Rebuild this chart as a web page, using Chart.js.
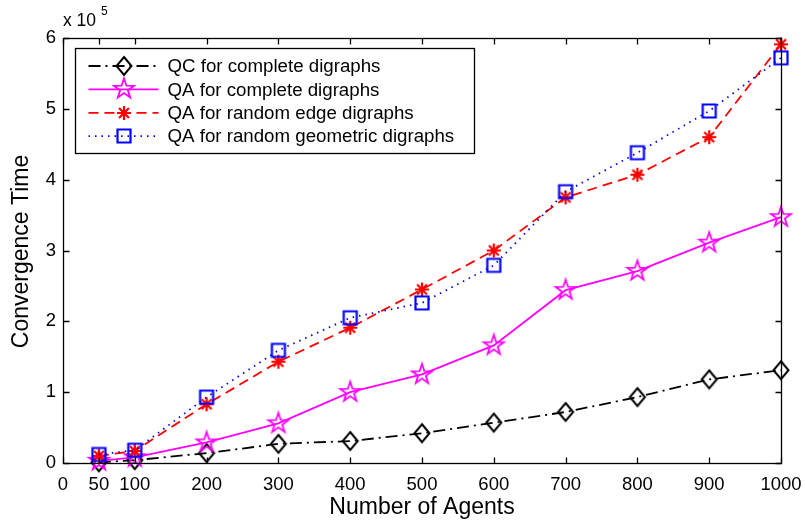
<!DOCTYPE html>
<html>
<head>
<meta charset="utf-8">
<script src="https://cdn.jsdelivr.net/npm/chart.js@4.4.0/dist/chart.umd.min.js"></script>
<style>
  html, body { margin: 0; padding: 0; background: #fff; }
  #wrap { width: 805px; height: 522px; }
</style>
</head>
<body>
<div id="wrap"><canvas id="chart" width="805" height="522"></canvas></div>
<script>
// number of agents on the x axis
var agents = [50, 100, 200, 300, 400, 500, 600, 700, 800, 900, 1000];
var xTicks = [0, 50, 100, 200, 300, 400, 500, 600, 700, 800, 900, 1000];
var yTicks = [0, 100000, 200000, 300000, 400000, 500000, 600000];

// convergence time of each method
var qcComplete = [1000, 4000, 14000, 27000, 31000, 42000, 57000, 72000, 93000, 118000, 131000];
var qaComplete = [3000, 8000, 29000, 56000, 100000, 125000, 166000, 244000, 271000, 311000, 347000];
var qaRandomEdge = [10000, 17000, 83000, 143000, 191000, 245000, 300000, 375000, 407000, 460000, 591000];
var qaRandomGeo = [12000, 18000, 93000, 159000, 205000, 226000, 279000, 383000, 438000, 497000, 572000];

var seriesNames = [
  'QC for complete digraphs',
  'QA for complete digraphs',
  'QA for random edge digraphs',
  'QA for random geometric digraphs'
];

var FONT = "'Liberation Sans', Arial, Helvetica, sans-serif";

// marker glyphs drawn once into small canvases and used as pointStyle
function marker(shape, color, lw) {
  var size = 26;
  var c = document.createElement('canvas');
  c.width = size; c.height = size;
  var g = c.getContext('2d');
  var m = size / 2;
  g.strokeStyle = color;
  g.lineWidth = lw;
  g.lineJoin = 'miter';
  g.beginPath();
  if (shape === 'diamond') {
    g.moveTo(m, m - 9);
    g.lineTo(m + 7.5, m);
    g.lineTo(m, m + 9);
    g.lineTo(m - 7.5, m);
    g.closePath();
  } else if (shape === 'pentagram') {
    for (var i = 0; i < 10; i++) {
      var r = i % 2 === 0 ? 10.5 : 4.1;
      var ang = -Math.PI / 2 + i * Math.PI / 5;
      var px = m + r * Math.cos(ang), py = m + r * Math.sin(ang);
      if (i === 0) g.moveTo(px, py); else g.lineTo(px, py);
    }
    g.closePath();
  } else if (shape === 'asterisk') {
    for (var k = 0; k < 4; k++) {
      var a = k * Math.PI / 4;
      g.moveTo(m - 7 * Math.cos(a), m - 7 * Math.sin(a));
      g.lineTo(m + 7 * Math.cos(a), m + 7 * Math.sin(a));
    }
  } else if (shape === 'square') {
    g.rect(m - 6.5, m - 6.5, 13, 13);
  }
  g.stroke();
  return c;
}

var markers = [
  marker('diamond', '#000000', 2),
  marker('pentagram', '#ff00ff', 1.8),
  marker('asterisk', '#ff0000', 2.2),
  marker('square', '#0000ff', 2.2)
];

function line(i, data, color, dash, order) {
  return {
    label: seriesNames[i],
    data: data,
    borderColor: color,
    backgroundColor: color,
    borderWidth: 1.8,
    borderDash: dash,
    borderCapStyle: 'butt',
    pointStyle: markers[i],
    pointRadius: 5,
    pointHoverRadius: 5,
    tension: 0,
    fill: false,
    clip: false,
    order: order
  };
}

function setTicks(values) {
  return function (scale) {
    scale.ticks = values.map(function (v) { return { value: v }; });
  };
}

// box around the plot with inward ticks on all four sides
var framePlugin = {
  id: 'frame',
  afterDatasetsDraw: function (chart) {
    var ctx = chart.ctx, a = chart.chartArea;
    var xs = chart.scales.x, ys = chart.scales.y;
    var L = Math.round(a.left) + 0.5, R = Math.round(a.right) + 0.5;
    var T = Math.round(a.top) + 0.5, B = Math.round(a.bottom) + 0.5;
    ctx.save();
    ctx.strokeStyle = '#000';
    ctx.lineWidth = 1.3;
    ctx.strokeRect(L, T, R - L, B - T);
    ctx.beginPath();
    xTicks.forEach(function (v) {
      var px = Math.round(xs.getPixelForValue(v)) + 0.5;
      ctx.moveTo(px, B); ctx.lineTo(px, B - 6);
      ctx.moveTo(px, T); ctx.lineTo(px, T + 6);
    });
    yTicks.forEach(function (v) {
      var py = Math.round(ys.getPixelForValue(v)) + 0.5;
      ctx.moveTo(L, py); ctx.lineTo(L + 6, py);
      ctx.moveTo(R, py); ctx.lineTo(R - 6, py);
    });
    ctx.stroke();
    ctx.restore();
  },
  afterDraw: function (chart) {
    var ctx = chart.ctx, a = chart.chartArea;
    ctx.save();

    // legend box
    var bx = Math.round(a.left) + 12.5, by = Math.round(a.top) + 10.5;
    var bw = 399, bh = 105;
    ctx.fillStyle = '#fff';
    ctx.fillRect(bx, by, bw, bh);
    ctx.strokeStyle = '#000';
    ctx.lineWidth = 1.3;
    ctx.strokeRect(bx, by, bw, bh);
    chart.data.datasets.forEach(function (ds, i) {
      var y = by + 17.5 + i * 23.4;
      ctx.save();
      ctx.strokeStyle = ds.borderColor;
      ctx.lineWidth = ds.borderWidth;
      ctx.setLineDash(ds.borderDash);
      ctx.beginPath();
      ctx.moveTo(bx + 13, y);
      ctx.lineTo(bx + 83, y);
      ctx.stroke();
      ctx.restore();
      var mk = ds.pointStyle;
      ctx.drawImage(mk, Math.round(bx + 48) - mk.width / 2, Math.round(y) - mk.height / 2);
      ctx.fillStyle = '#000';
      ctx.font = '18.7px ' + FONT;
      ctx.textBaseline = 'middle';
      ctx.textAlign = 'left';
      ctx.fillText(ds.label, bx + 92, y + 1);
    });

    // axis titles
    ctx.fillStyle = '#000';
    ctx.font = '23px ' + FONT;
    ctx.textAlign = 'center';
    ctx.textBaseline = 'alphabetic';
    ctx.fillText('Number of Agents', (a.left + a.right) / 2, 514);
    ctx.save();
    ctx.translate(28, (a.top + a.bottom) / 2 + 1);
    ctx.rotate(-Math.PI / 2);
    ctx.fillText('Convergence Time', 0, 0);
    ctx.restore();

    // exponent for the y axis
    ctx.textAlign = 'left';
    ctx.font = '17.5px ' + FONT;
    ctx.fillText('x 10', 63, 26);
    ctx.font = '12px ' + FONT;
    ctx.fillText('5', 101, 15);
    ctx.restore();
  }
};

var chart = new Chart(document.getElementById('chart'), {
  type: 'line',
  data: {
    datasets: [
      line(0, agents.map(function (x, i) { return { x: x, y: qcComplete[i] }; }), '#000000', [12, 5, 2, 5], 3),
      line(1, agents.map(function (x, i) { return { x: x, y: qaComplete[i] }; }), '#ff00ff', [], 2),
      line(2, agents.map(function (x, i) { return { x: x, y: qaRandomEdge[i] }; }), '#ff0000', [10, 6], 1),
      line(3, agents.map(function (x, i) { return { x: x, y: qaRandomGeo[i] }; }), '#0000ff', [1.5, 5], 0)
    ]
  },
  options: {
    responsive: false,
    animation: false,
    layout: { padding: { left: 0, top: 38, right: 24, bottom: 0 } },
    plugins: { legend: { display: false }, tooltip: { enabled: false } },
    scales: {
      x: {
        type: 'linear',
        min: 0,
        max: 1000,
        afterBuildTicks: setTicks(xTicks),
        afterFit: function (s) {
          s.height = 59;
          s.paddingLeft = 0;
          s.paddingRight = 0;
        },
        grid: { display: false, drawTicks: false },
        border: { display: false },
        ticks: {
          autoSkip: false,
          maxRotation: 0,
          padding: 11,
          color: '#000',
          font: { family: FONT, size: 18.5 },
          callback: function (v) { return String(v); }
        }
      },
      y: {
        type: 'linear',
        min: 0,
        max: 600000,
        afterBuildTicks: setTicks(yTicks),
        afterFit: function (s) {
          s.width = 63;
          s.paddingTop = 0;
          s.paddingBottom = 0;
        },
        grid: { display: false, drawTicks: false },
        border: { display: false },
        ticks: {
          padding: 7,
          color: '#000',
          font: { family: FONT, size: 18.5 },
          callback: function (v) { return String(v / 100000); }
        }
      }
    }
  },
  plugins: [framePlugin]
});
</script>
</body>
</html>
